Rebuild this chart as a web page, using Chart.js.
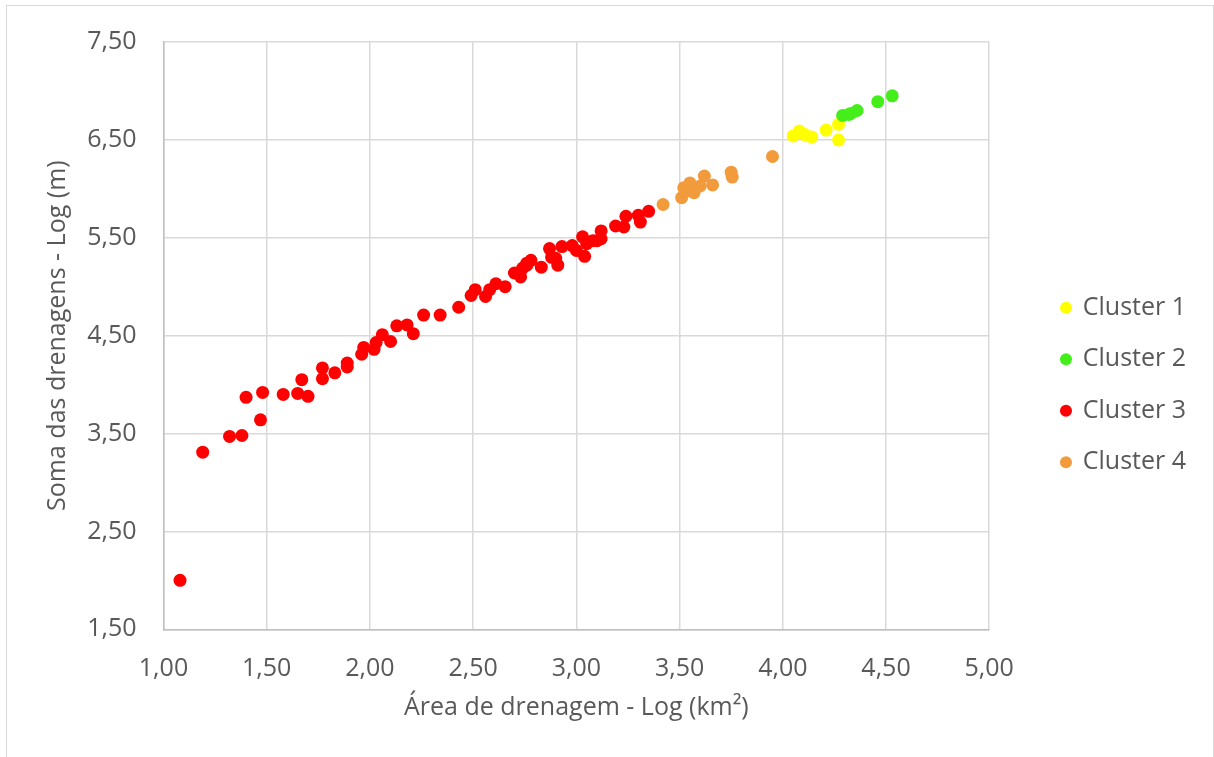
<!DOCTYPE html>
<html lang="pt">
<head>
<meta charset="utf-8">
<title>Área de drenagem x Soma das drenagens</title>
<script src="https://cdn.jsdelivr.net/npm/chart.js"></script>
<style>
    html, body { margin: 0; padding: 0; background: #fff; }
    .frame {
        position: absolute; left: 6px; top: 5px; width: 1206px; height: 760px;
        border: 1px solid #d9d9d9; border-bottom: none;
    }
    .wrap { position: absolute; left: 0; top: 0; width: 1214px; height: 757px; }
</style>
</head>
<body>
<div class="frame"></div>
<div class="wrap"><canvas id="grafico"></canvas></div>
<script>
// Dados (log da área x log da soma das drenagens)
const legendas = ['Cluster 1', 'Cluster 2', 'Cluster 3', 'Cluster 4'];
const cores = ['#FFFF00', '#44EE1A', '#FF0000', '#F29B3D'];

const cluster1X = [4.05, 4.08, 4.10, 4.11, 4.14, 4.21, 4.27, 4.27];
const cluster1Y = [6.54, 6.59, 6.56, 6.55, 6.53, 6.60, 6.66, 6.50];

const cluster2X = [4.29, 4.32, 4.33, 4.36, 4.46, 4.53];
const cluster2Y = [6.75, 6.76, 6.77, 6.80, 6.89, 6.95];

const cluster3X = [1.08, 1.19, 1.32, 1.38, 1.47, 1.40, 1.48, 1.58, 1.65, 1.70,
    1.67, 1.77, 1.77, 1.83, 1.89, 1.89, 1.96, 1.97, 2.02, 2.03,
    2.06, 2.10, 2.13, 2.18, 2.21, 2.26, 2.34, 2.43, 2.49, 2.51,
    2.56, 2.58, 2.61, 2.655, 2.70, 2.73, 2.74, 2.76, 2.78, 2.76,
    2.83, 2.87, 2.88, 2.90, 2.91, 2.93, 2.98, 3.00, 3.03, 3.04,
    3.05, 3.08, 3.10, 3.12, 3.12, 3.19, 3.23, 3.24, 3.31, 3.30, 3.35];
const cluster3Y = [2.00, 3.31, 3.47, 3.48, 3.64, 3.87, 3.92, 3.90, 3.91, 3.88,
    4.05, 4.06, 4.17, 4.12, 4.22, 4.18, 4.31, 4.38, 4.36, 4.43,
    4.51, 4.44, 4.60, 4.61, 4.52, 4.71, 4.71, 4.79, 4.91, 4.97,
    4.90, 4.97, 5.03, 5.00, 5.14, 5.10, 5.19, 5.24, 5.27, 5.22,
    5.20, 5.39, 5.30, 5.29, 5.22, 5.41, 5.42, 5.37, 5.51, 5.31,
    5.44, 5.47, 5.47, 5.57, 5.49, 5.62, 5.61, 5.72, 5.66, 5.73, 5.77];

const cluster4X = [3.42, 3.51, 3.52, 3.54, 3.55, 3.57, 3.60, 3.62, 3.66, 3.75, 3.755, 3.95];
const cluster4Y = [5.84, 5.91, 6.01, 5.98, 6.06, 5.96, 6.03, 6.13, 6.04, 6.17, 6.12, 6.33];

const xTicks = { min: 1, max: 5, passo: 0.5 };
const yTicks = { min: 1.5, max: 7.5, passo: 1 };

function pontos(xs, ys) {
    return xs.map((x, i) => ({ x: x, y: ys[i] }));
}

const series = [
    pontos(cluster1X, cluster1Y),
    pontos(cluster2X, cluster2Y),
    pontos(cluster3X, cluster3Y),
    pontos(cluster4X, cluster4Y)
];

// formato brasileiro com vírgula
const virgula = v => v.toFixed(2).replace('.', ',');

const corTexto = '#595959';
const fonte = 'Open Sans';

new Chart(document.getElementById('grafico'), {
    type: 'scatter',
    data: {
        datasets: series.map((dados, i) => ({
            label: legendas[i],
            data: dados,
            backgroundColor: cores[i],
            borderColor: cores[i],
            pointRadius: 6.5,
            pointHoverRadius: 6.5,
            borderWidth: 0,
            order: series.length - i   // série seguinte fica por cima, como no Excel
        }))
    },
    options: {
        responsive: true,
        maintainAspectRatio: false,
        animation: false,
        layout: { padding: { top: 19, bottom: 6, left: 0, right: 18 } },
        plugins: {
            tooltip: { enabled: false },
            legend: {
                position: 'right',
                align: 'center',
                labels: {
                    usePointStyle: true,
                    pointStyle: 'circle',
                    boxWidth: 8.5,
                    boxHeight: 8.5,
                    padding: 26.5,
                    color: corTexto,
                    font: { family: fonte, size: 25 },
                    sort: (a, b) => a.datasetIndex - b.datasetIndex
                }
            }
        },
        scales: {
            x: {
                type: 'linear',
                min: xTicks.min,
                max: xTicks.max,
                ticks: {
                    stepSize: xTicks.passo,
                    color: corTexto,
                    padding: 25,
                    font: { family: fonte, size: 25 },
                    callback: v => virgula(v)
                },
                grid: { color: '#d9d9d9', lineWidth: 1.5, drawTicks: false },
                border: { color: '#bfbfbf', width: 1.5 },
                title: {
                    display: true,
                    text: 'Área de drenagem - Log (km²)',
                    color: corTexto,
                    font: { family: fonte, size: 25 },
                    padding: { top: 0, bottom: 28 }
                },
                afterFit: s => { s.height = 121.7; }
            },
            y: {
                type: 'linear',
                min: yTicks.min,
                max: yTicks.max,
                ticks: {
                    stepSize: yTicks.passo,
                    color: corTexto,
                    padding: 27,
                    font: { family: fonte, size: 25 },
                    callback: v => virgula(v)
                },
                grid: { color: '#d9d9d9', lineWidth: 1.5, drawTicks: false },
                border: { color: '#bfbfbf', width: 1.5 },
                title: {
                    display: true,
                    text: 'Soma das drenagens - Log (m)',
                    color: corTexto,
                    font: { family: fonte, size: 25 },
                    padding: { top: 43, bottom: 0 }
                },
                afterFit: s => { s.width = 163.5; }
            },
            // espaço vazio entre a área do gráfico e a legenda
            folga: {
                type: 'linear',
                position: 'right',
                display: true,
                ticks: { display: false },
                grid: { display: false },
                border: { display: false },
                afterFit: s => { s.width = 46; }
            }
        }
    }
});
</script>
</body>
</html>
